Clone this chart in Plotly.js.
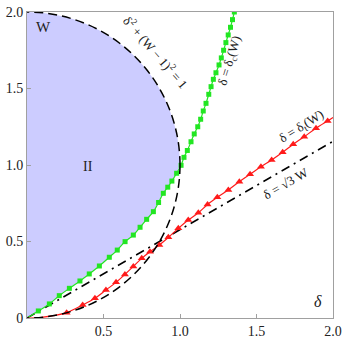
<!DOCTYPE html>
<html><head><meta charset="utf-8">
<script src="https://cdn.plot.ly/plotly-3.0.1.min.js"></script>
<style>html,body{margin:0;padding:0;background:#fff}#plot{width:347px;height:347px}</style>
</head><body><div id="plot"></div>
<script>
// delta_c(W) curve (green squares)
var greenDelta = [0,0.074,0.146,0.211,0.277,0.346,0.407,0.473,0.538,0.59,0.641,0.695,0.739,0.782,0.826,0.86,0.891,0.92,0.947,0.978,1.007,1.026,1.048,1.072,1.093,1.116,1.135,1.152,1.17,1.188,1.203,1.218,1.235,1.255,1.27,1.285,1.30,1.315,1.33,1.343,1.355];
var greenW     = [0,0.046,0.092,0.146,0.194,0.242,0.288,0.34,0.397,0.444,0.499,0.542,0.593,0.645,0.695,0.755,0.815,0.855,0.895,0.946,0.998,1.05,1.095,1.152,1.203,1.25,1.299,1.353,1.403,1.462,1.512,1.56,1.603,1.654,1.70,1.75,1.80,1.85,1.90,1.95,2.0];
// delta_t(W) curve (red triangles)
var redDelta = [0,0.085,0.172,0.259,0.364,0.444,0.516,0.582,0.64,0.695,0.75,0.804,0.865,0.924,0.989,1.054,1.12,1.18,1.244,1.316,1.388,1.458,1.529,1.599,1.671,1.74,1.812,1.889,1.965,2.0];
var redW     = [0,0.003,0.015,0.035,0.085,0.129,0.183,0.233,0.285,0.337,0.39,0.433,0.477,0.527,0.586,0.64,0.688,0.742,0.789,0.837,0.891,0.939,0.989,1.033,1.083,1.135,1.185,1.24,1.288,1.31];
var redMarkStart = 3, redMarkEnd = 29;
// delta = sqrt(3) W line
var lineDelta = [0, 2];
var lineW = [0, 2/Math.sqrt(3)];
// circle delta^2 + (W-1)^2 = 1 bounding box
var circX = [-1, 1], circY = [0, 2];
var tickVals = [0, 0.5, 1.0, 1.5, 2.0];
var xTickText = ['', '0.5', '1.0', '1.5', '2.0'];
var yTickText = ['0', '0.5', '1.0', '1.5', '2.0'];

var serif = 'Liberation Serif, Times New Roman, serif';

// white cover region right/below the green curve
var coverX = greenDelta.concat([2.2, 2.2]);
var coverY = greenW.concat([2.2, -0.2]);
coverX.push(0); coverY.push(-0.2);

var traces = [
  {x: coverX, y: coverY, mode: 'lines', fill: 'toself', fillcolor: '#ffffff', line: {width: 0, color: 'rgba(0,0,0,0)'}, hoverinfo: 'skip'},
  {x: lineDelta, y: lineW, mode: 'lines', line: {color: '#000', width: 1.5, dash: '9px,5px,2px,5px'}},
  {x: greenDelta, y: greenW, mode: 'lines', line: {color: '#22e622', width: 1.2, shape: 'spline'}},
  {x: greenDelta.slice(1), y: greenW.slice(1), mode: 'markers', marker: {symbol: 'square', size: 5, color: '#22e622'}},
  {x: redDelta, y: redW, mode: 'lines', line: {color: '#ff1a1a', width: 1.2, shape: 'spline'}},
  {x: redDelta.slice(redMarkStart, redMarkEnd), y: redW.slice(redMarkStart, redMarkEnd), mode: 'markers', marker: {symbol: 'triangle-up', size: 7, color: '#ff1a1a'}}
];

var axisCommon = {
  range: [0, 2], showgrid: false, zeroline: false, showline: true, mirror: true,
  linecolor: '#a0a0a0', linewidth: 1, ticks: 'inside', ticklen: 4, tickcolor: '#a0a0a0',
  tickvals: tickVals, tickfont: {family: serif, size: 14, color: '#222'}, fixedrange: true
};

var layout = {
  width: 347, height: 347, margin: {l: 27, r: 14, t: 12, b: 29},
  paper_bgcolor: '#fff', plot_bgcolor: '#fff', showlegend: false,
  xaxis: Object.assign({}, axisCommon, {ticktext: xTickText}),
  yaxis: Object.assign({}, axisCommon, {ticktext: yTickText}),
  shapes: [
    {type: 'circle', xref: 'x', yref: 'y', x0: circX[0], x1: circX[1], y0: circY[0], y1: circY[1], fillcolor: '#ccccff', line: {width: 0}, layer: 'below'},
    {type: 'circle', xref: 'x', yref: 'y', x0: circX[0], x1: circX[1], y0: circY[0], y1: circY[1], line: {color: '#000', width: 1.5, dash: '9px,5px'}, layer: 'above'}
  ],
  annotations: [
    {x: 0.105, y: 1.9, text: 'W', showarrow: false, font: {family: serif, size: 15, color: '#222'}},
    {x: 0.4, y: 0.99, text: 'II', showarrow: false, font: {family: serif, size: 14, color: '#222'}},
    {x: 1.9, y: 0.11, text: '<i>δ</i>', showarrow: false, font: {family: serif, size: 16, color: '#222'}},
    {x: 0.845, y: 1.74, text: 'δ<sup>2</sup> + (W − 1)<sup>2</sup> = 1', textangle: 49, showarrow: false, font: {family: serif, size: 13, color: '#222'}},
    {x: 1.33, y: 1.68, text: 'δ = δ<sub>c</sub>(W)', textangle: -73, showarrow: false, font: {family: serif, size: 13, color: '#222'}},
    {x: 1.80, y: 1.25, text: 'δ = δ<sub>t</sub>(W)', textangle: -32, showarrow: false, font: {family: serif, size: 13, color: '#222'}},
    {x: 1.69, y: 0.88, text: 'δ = √3 W', textangle: -30, showarrow: false, font: {family: serif, size: 13, color: '#222'}}
  ]
};

Plotly.newPlot('plot', traces, layout, {staticPlot: true, displayModeBar: false});
</script></body></html>
